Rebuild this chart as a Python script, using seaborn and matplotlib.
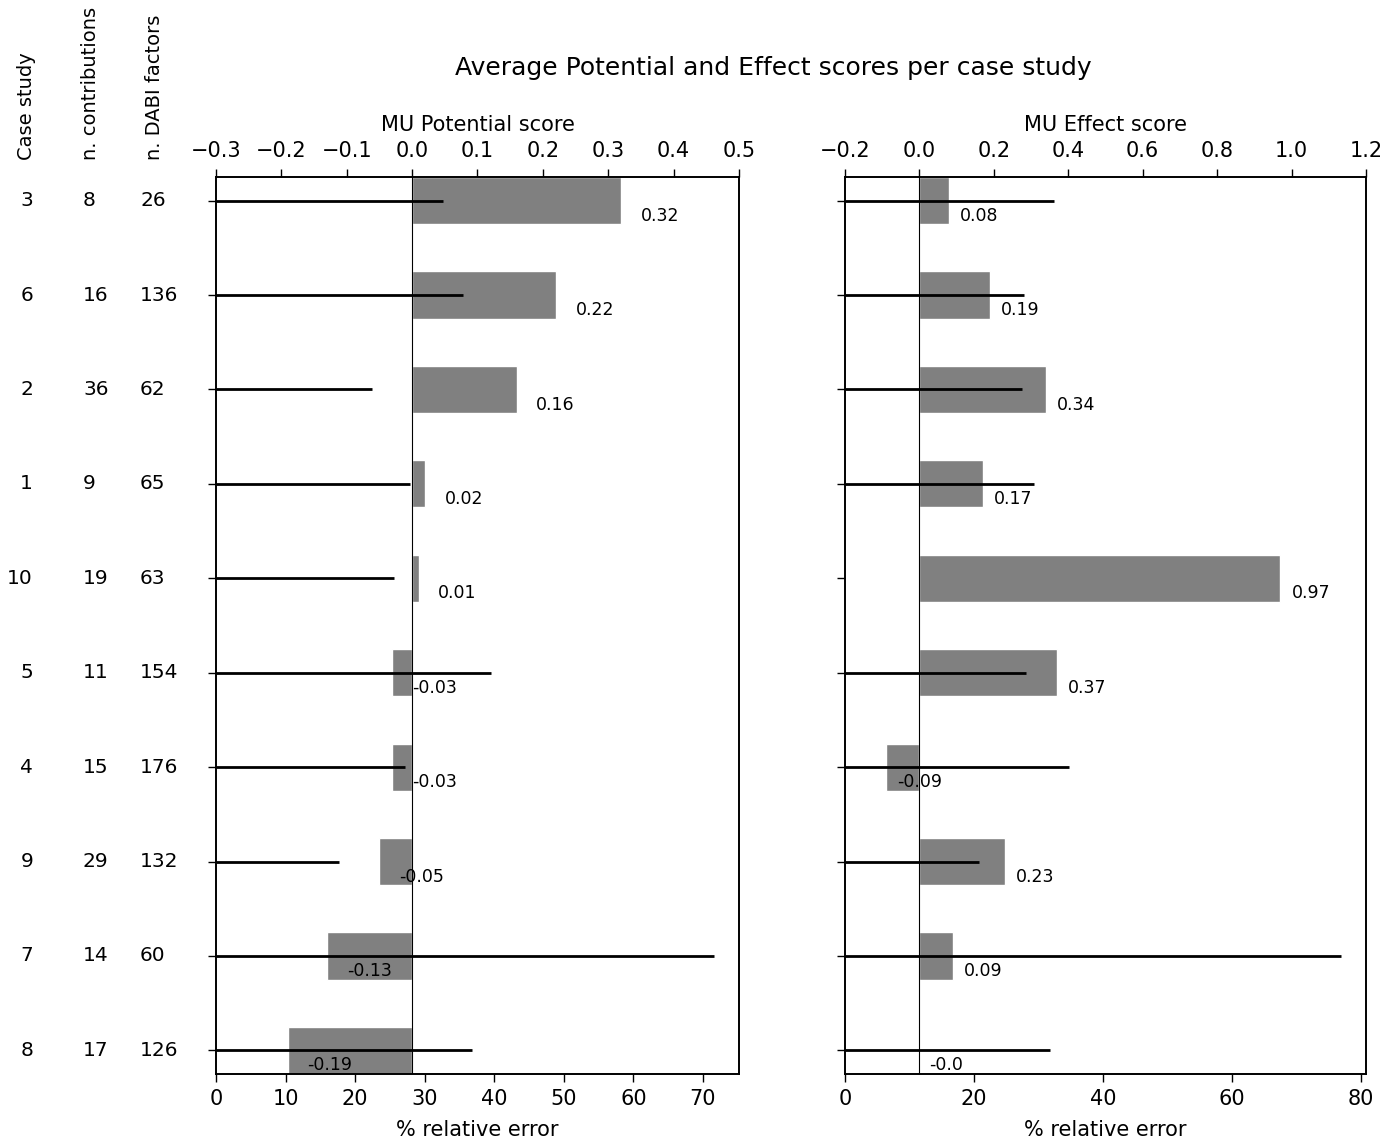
import numpy as np
import pandas as pd
import seaborn as sns
import matplotlib.pyplot as plt

# rows from top to bottom
case_study = ["3", "6", "2", "1", "10", "5", "4", "9", "7", "8"]
n_contributions = ["8", "16", "36", "9", "19", "11", "15", "29", "14", "17"]
n_dabi = ["26", "136", "62", "65", "63", "154", "176", "132", "60", "126"]

potential_score = [0.32, 0.22, 0.16, 0.02, 0.01, -0.03, -0.03, -0.05, -0.13, -0.19]
potential_err = [32.6, 35.5, 22.4, 27.9, 25.6, 39.5, 27.2, 17.7, 71.6, 36.8]

effect_score = [0.08, 0.19, 0.34, 0.17, 0.97, 0.37, -0.09, 0.23, 0.09, -0.003]
effect_err = [32.4, 27.8, 27.5, 29.3, np.nan, 28.0, 34.7, 20.7, 76.9, 31.8]

df = pd.DataFrame({
    "case": case_study,
    "potential": potential_score,
    "potential_err": potential_err,
    "effect": effect_score,
    "effect_err": effect_err,
})

sns.set_style("ticks", {"text.color": "black", "axes.labelcolor": "black",
                        "xtick.color": "black", "ytick.color": "black",
                        "axes.edgecolor": "black"})
plt.rcParams['font.family'] = ['DejaVu Sans']

fig = plt.figure(figsize=(13.99, 11.39), dpi=100)
ax_l = fig.add_axes([0.1544, 0.0571, 0.3738, 0.7875])
ax_r = fig.add_axes([0.6040, 0.0571, 0.3724, 0.7875])

panels = [
    (ax_l, "potential", "potential_err", "MU Potential score", (-0.3, 0.5)),
    (ax_r, "effect", "effect_err", "MU Effect score", (-0.2, 1.2)),
]

for ax, col, err_col, label, lim in panels:
    sns.barplot(data=df, x=col, y="case", orient="h", color="gray",
                saturation=1, width=0.5, ax=ax, zorder=1)
    ax.axvline(0, color="black", lw=0.8, zorder=3)
    ax.set_xlim(*lim)
    ax.set_ylim(9.25, -0.25)
    ax.set_ylabel("")
    ax.set_yticklabels([])
    for i, v in enumerate(df[col]):
        ax.text(v + 0.03, i + 0.16, str(round(v, 2)), va="center",
                ha="left", fontsize=12.5, zorder=5)

    # relative error lines on a twin axis at the bottom
    ax2 = ax.twiny()
    errs = df[err_col]
    ax2.hlines(np.arange(len(errs)), 0, errs, color="black", lw=2)
    ax2.set_xlim(0, np.nanmax(errs) * 1.05)
    ax2.xaxis.tick_bottom()
    ax2.xaxis.set_label_position("bottom")
    ax2.set_xlabel("% relative error", fontsize=15, labelpad=8)
    ax2.tick_params(axis="x", labelsize=15, length=6, width=1, pad=4.5)

    ax.xaxis.tick_top()
    ax.xaxis.set_label_position("top")
    ax.set_xlabel(label, fontsize=15, labelpad=7)
    ax.tick_params(axis="x", labelsize=15, length=6, width=1, pad=5.5)
    ax.tick_params(axis="y", length=6, width=1)
    for sp in list(ax.spines.values()) + list(ax2.spines.values()):
        sp.set_visible(True)
        sp.set_linewidth(1.2)

# table of row labels on the left
def fig_x(px):
    return px / 1399

for i in range(len(case_study)):
    ax_l.annotate(case_study[i], xy=(fig_x(33), i), xycoords=("figure fraction", "data"),
                  ha="right", va="center", fontsize=14.5)
    ax_l.annotate(n_contributions[i], xy=(fig_x(83), i), xycoords=("figure fraction", "data"),
                  ha="left", va="center", fontsize=14.5)
    ax_l.annotate(n_dabi[i], xy=(fig_x(140), i), xycoords=("figure fraction", "data"),
                  ha="left", va="center", fontsize=14.5)

head_y = 1 - 160 / 1139
fig.text(fig_x(27), head_y, "Case study", rotation=90, ha="center", va="bottom", fontsize=14)
fig.text(fig_x(91), head_y, "n. contributions", rotation=90, ha="center", va="bottom", fontsize=14)
fig.text(fig_x(155), head_y, "n. DABI factors", rotation=90, ha="center", va="bottom", fontsize=14)

fig.text(0.5525, 1 - 68 / 1139, "Average Potential and Effect scores per case study",
         ha="center", va="center", fontsize=18)

fig.savefig("out.png", dpi=100)
